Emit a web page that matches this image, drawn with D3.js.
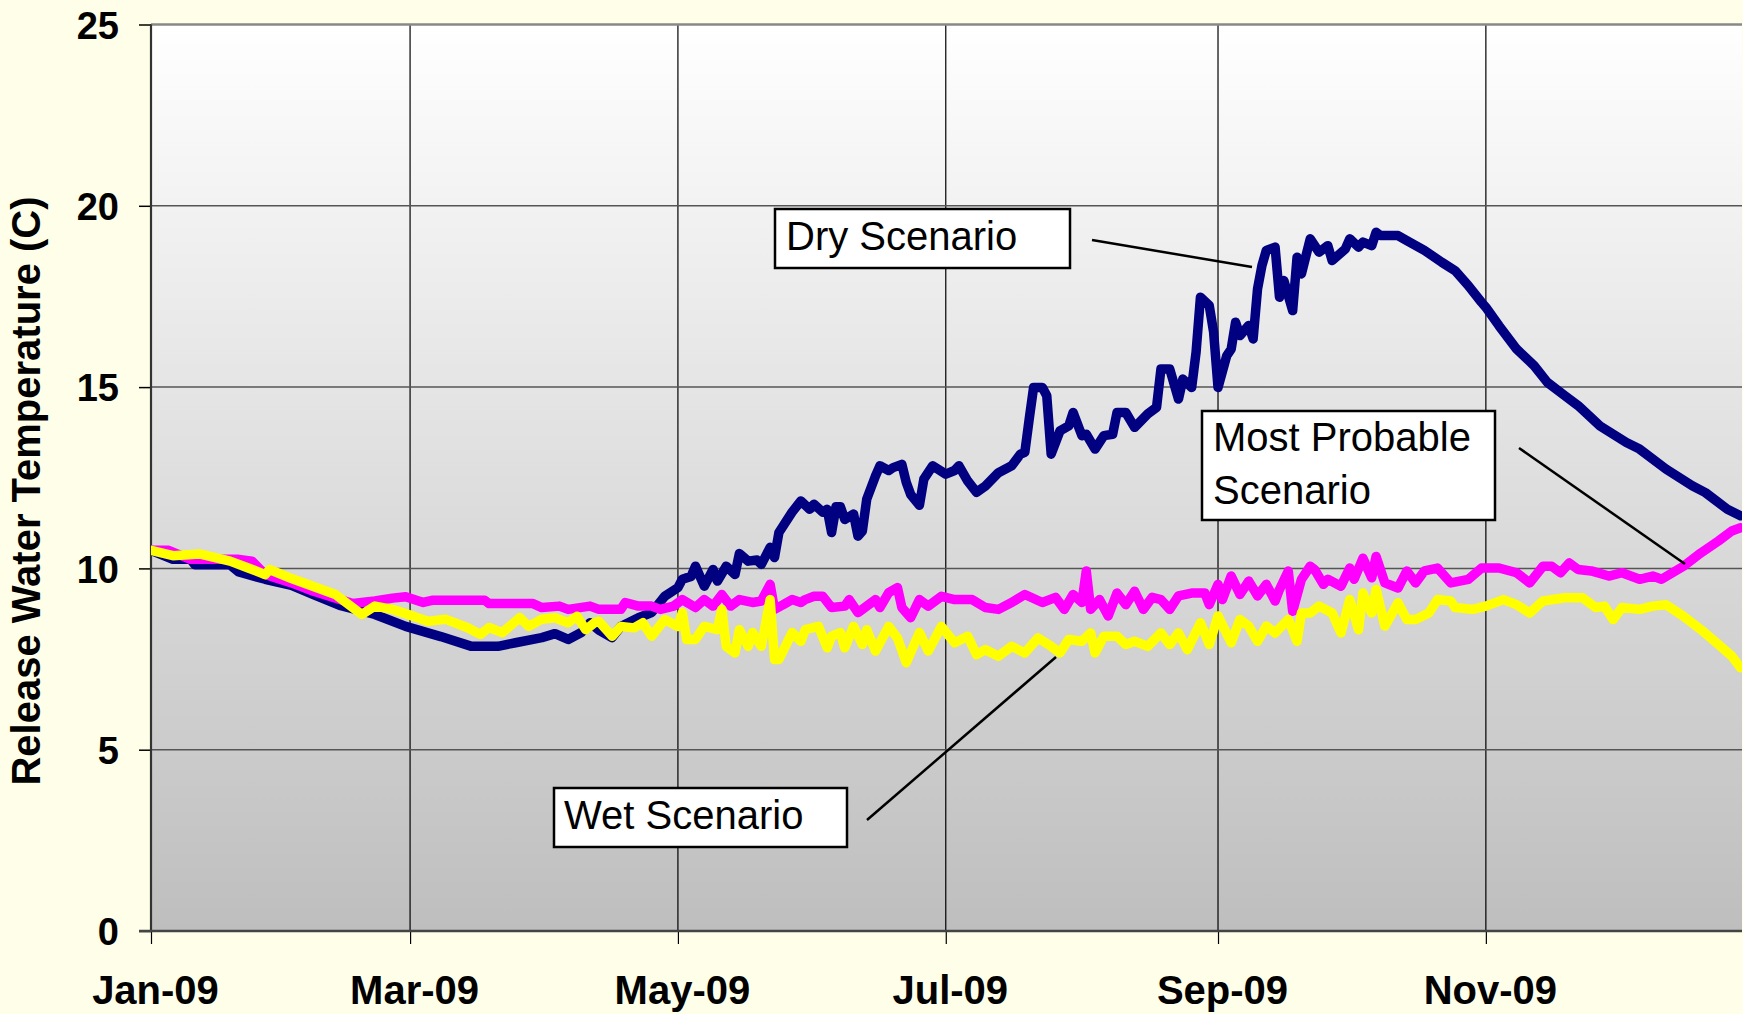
<!DOCTYPE html>
<html>
<head>
<meta charset="utf-8">
<script src="https://cdn.jsdelivr.net/npm/d3@7"></script>
<style>
  html, body { margin: 0; padding: 0; background: #FFFFE9; }
  svg { display: block; }
  text { font-family: "Liberation Sans", Arial, sans-serif; }
</style>
</head>
<body>
<svg id="chart" width="1743" height="1014"></svg>
<script>
// ---- Data (day offset from 1 Jan 2009, release water temperature in C) ----
const seriesNames = ["Dry Scenario", "Most Probable Scenario", "Wet Scenario"];
const tempTicks = [0, 5, 10, 15, 20, 25];
const monthTickLabels = ["Jan-09", "Mar-09", "May-09", "Jul-09", "Sep-09", "Nov-09"];

const dryDays = [0,5,9,10,18,20,26,32,37,43,51,58,66,73,79,83,89,92,95,98,100,102,105,107,111,114,117,120,121,123,124,126,128,129,131,133,134,136,138,139,141,142,143,146,148,150,151,153,154,155,156,157,158,160,161,162,163,165,166,168,169,171,172,173,175,176,178,181,183,184,186,188,190,193,196,198,199,200,201,203,204,205,207,209,210,212,213,215,217,219,220,222,224,227,229,230,232,234,235,237,238,239,241,242,243,245,246,247,248,250,251,252,253,254,256,257,258,260,261,262,264,266,268,269,272,273,275,276,278,279,280,284,286,290,294,297,300,303,304,307,311,315,318,322,325,330,336,339,345,351,354,359,362];
const dryTemps = [10.5,10.25,10.25,10.1,10.1,9.9,9.7,9.53,9.28,8.98,8.73,8.4,8.12,7.85,7.85,7.95,8.09,8.2,8.04,8.23,8.5,8.3,8.09,8.4,8.64,8.78,9.23,9.47,9.7,9.78,10.06,9.51,9.97,9.65,10.06,9.83,10.41,10.2,10.23,10.11,10.58,10.3,10.99,11.55,11.86,11.63,11.77,11.55,11.63,10.99,11.7,11.7,11.35,11.5,10.89,11.03,11.91,12.55,12.83,12.7,12.78,12.87,12.37,12.04,11.74,12.46,12.83,12.6,12.7,12.83,12.41,12.1,12.27,12.64,12.83,13.15,13.2,14.12,14.99,14.99,14.76,13.15,13.79,13.93,14.3,13.66,13.7,13.29,13.66,13.7,14.3,14.3,13.89,14.26,14.44,15.5,15.5,14.67,15.22,14.99,15.96,17.48,17.25,16.51,14.99,15.87,16.05,16.79,16.42,16.7,16.33,17.71,18.35,18.77,18.86,17.48,17.94,17.11,18.58,18.12,19.09,18.72,18.9,18.49,18.81,19.09,18.86,19.0,18.9,19.27,19.18,19.18,19.04,18.77,18.44,18.21,17.8,17.34,17.2,16.69,16.05,15.59,15.13,14.76,14.49,13.93,13.47,13.29,12.74,12.28,12.09,11.63,11.45];

const probDays = [0,4,9,20,23,26,32,37,43,46,51,55,58,62,64,76,77,87,89,93,95,100,102,107,108,111,114,116,119,121,124,126,128,130,132,134,137,139,141,142,144,146,148,149,151,153,155,158,159,161,163,165,166,168,170,171,173,175,177,180,183,187,190,193,196,199,203,206,208,210,212,213,214,216,218,220,222,224,226,228,230,232,234,237,240,241,243,244,246,248,250,252,254,256,257,259,260,262,264,265,267,268,271,273,274,276,278,279,281,284,286,288,290,293,296,300,303,307,311,314,317,319,321,323,325,328,332,335,339,342,344,349,353,357,360,362];
const probTemps = [10.5,10.5,10.25,10.25,10.2,9.83,9.6,9.37,9.14,9.03,9.1,9.18,9.22,9.06,9.12,9.12,9.03,9.03,8.92,8.96,8.87,8.96,8.87,8.87,9.06,8.96,8.96,8.87,8.96,9.14,8.92,9.14,8.96,9.28,8.96,9.14,9.06,9.1,9.56,8.87,9.0,9.14,9.06,9.14,9.23,9.23,8.92,8.96,9.14,8.78,8.96,9.14,8.92,9.33,9.47,8.92,8.64,9.14,8.96,9.23,9.14,9.14,8.92,8.87,9.06,9.28,9.06,9.2,8.87,9.28,9.06,9.93,8.87,9.14,8.69,9.32,9.0,9.37,8.87,9.2,9.14,8.87,9.24,9.32,9.32,9.0,9.56,9.14,9.79,9.28,9.65,9.24,9.56,9.1,9.42,9.93,8.82,9.7,10.06,9.97,9.56,9.7,9.51,10.01,9.7,10.28,9.74,10.33,9.6,9.46,9.93,9.6,9.93,10.01,9.6,9.7,10.01,10.01,9.88,9.6,10.06,10.06,9.88,10.15,9.97,9.93,9.79,9.88,9.7,9.79,9.7,10.06,10.43,10.76,11.03,11.12];

const wetDays = [0,5,11,18,22,26,27,32,37,42,48,51,55,60,63,67,72,75,77,80,84,86,89,92,93,95,97,99,101,102,105,107,110,112,114,117,120,121,122,124,126,129,130,131,133,134,136,137,139,141,142,143,146,148,149,152,154,155,157,158,160,162,163,165,168,170,172,175,177,180,183,186,188,190,193,196,199,202,205,207,209,212,214,215,217,220,222,224,227,230,232,234,236,239,241,243,246,248,250,252,254,256,259,261,262,264,266,269,271,273,275,276,278,279,281,284,286,288,291,293,296,297,301,304,308,311,314,317,322,326,329,331,333,335,339,342,345,349,353,357,360,362];
const wetTemps = [10.5,10.35,10.4,10.2,10.02,9.83,9.97,9.72,9.5,9.28,8.73,8.96,8.87,8.67,8.54,8.6,8.37,8.18,8.37,8.23,8.64,8.4,8.6,8.64,8.59,8.5,8.68,8.31,8.5,8.54,8.13,8.4,8.36,8.5,8.13,8.59,8.4,8.78,8.04,8.04,8.4,8.31,8.87,7.85,7.67,8.31,7.85,8.23,7.85,9.14,7.49,7.49,8.23,7.99,8.31,8.4,7.81,8.13,8.23,7.81,8.4,7.9,8.31,7.72,8.4,8.08,7.4,8.23,7.72,8.4,7.95,8.13,7.62,7.76,7.58,7.85,7.67,8.08,7.85,7.67,8.04,7.99,8.22,7.67,8.13,8.13,7.9,7.99,7.85,8.22,7.9,8.22,7.76,8.5,7.9,8.69,7.95,8.59,8.41,7.99,8.41,8.22,8.59,7.99,8.77,8.77,8.96,8.77,8.22,9.14,8.31,9.32,8.77,9.42,8.41,9.05,8.59,8.59,8.77,9.14,9.1,8.92,8.87,8.96,9.14,9.0,8.77,9.1,9.19,9.19,8.92,8.96,8.59,8.92,8.87,8.96,9.0,8.68,8.31,7.9,7.58,7.26];

const seriesColors = ["#000080", "#FF00FF", "#FFFF00"];

// ---- Layout ----
const svg = d3.select("#chart");
const plot = { left: 151, right: 1742, top: 24.5, bottom: 931 };
const start = new Date(2009, 0, 1);
const end = new Date(2010, 0, 1);
const x = d3.scaleTime().domain([start, end]).range([plot.left, plot.left + 365 * 4.391]);
const y = d3.scaleLinear().domain([0, 25]).range([plot.bottom, plot.top]);
const toDate = d => d3.timeDay.offset(start, d);

// background gradient for plot area
const defs = svg.append("defs");
const grad = defs.append("linearGradient").attr("id", "bg").attr("x1", 0).attr("y1", 0).attr("x2", 0).attr("y2", 1);
grad.append("stop").attr("offset", 0).attr("stop-color", "#FFFFFF");
grad.append("stop").attr("offset", 1).attr("stop-color", "#BEBEBE");
defs.append("clipPath").attr("id", "clip").append("rect")
  .attr("x", plot.left).attr("y", plot.top - 10)
  .attr("width", plot.right - plot.left).attr("height", plot.bottom - plot.top + 10);

svg.append("rect").attr("x", plot.left).attr("y", plot.top)
  .attr("width", plot.right - plot.left).attr("height", plot.bottom - plot.top)
  .attr("fill", "url(#bg)");

// ---- Axes / grid ----
const monthTicks = d3.timeMonth.every(2).range(start, end);
const xAxis = svg.append("g").attr("transform", `translate(0,${plot.bottom})`)
  .call(d3.axisBottom(x).tickValues(monthTicks)
    .tickFormat((d, i) => monthTickLabels[i]).tickSize(13));
xAxis.select(".domain").remove();
xAxis.selectAll(".tick line").attr("stroke", "#000").attr("stroke-width", 1.2);
xAxis.selectAll(".tick text").attr("y", 73).attr("dy", 0).attr("dx", 4)
  .attr("font-size", 40).attr("font-weight", "bold").attr("fill", "#000")
  .attr("font-family", "Liberation Sans, Arial, sans-serif");

// vertical grid
svg.append("g").selectAll("line").data(monthTicks).join("line")
  .attr("x1", d => x(d)).attr("x2", d => x(d))
  .attr("y1", plot.top).attr("y2", plot.bottom)
  .attr("stroke", "#000").attr("stroke-width", 1.2);

// horizontal grid
svg.append("g").selectAll("line").data(tempTicks.filter(t => t > 0)).join("line")
  .attr("x1", plot.left).attr("x2", plot.right)
  .attr("y1", d => y(d)).attr("y2", d => y(d))
  .attr("stroke", d => d === 25 ? "#888" : "#555")
  .attr("stroke-width", d => d === 25 ? 2.5 : 1.5);

const yAxis = svg.append("g").attr("transform", `translate(${plot.left},0)`)
  .call(d3.axisLeft(y).tickValues(tempTicks).tickSize(12));
yAxis.select(".domain").remove();
yAxis.selectAll(".tick line").attr("stroke", "#000").attr("stroke-width", 1.5);
yAxis.selectAll(".tick text").attr("x", -32).attr("dy", "0.36em")
  .attr("font-size", 38).attr("font-weight", "bold").attr("fill", "#000")
  .attr("font-family", "Liberation Sans, Arial, sans-serif");

// axis lines
svg.append("line").attr("x1", plot.left).attr("x2", plot.left)
  .attr("y1", plot.top).attr("y2", plot.bottom + 1)
  .attr("stroke", "#333").attr("stroke-width", 2.2);
svg.append("line").attr("x1", plot.left - 12).attr("x2", plot.right)
  .attr("y1", plot.bottom).attr("y2", plot.bottom)
  .attr("stroke", "#444").attr("stroke-width", 2.5);

// y title
svg.append("text")
  .attr("transform", `translate(40,${491}) rotate(-90)`)
  .attr("text-anchor", "middle")
  .attr("font-size", 40).attr("font-weight", "bold").attr("fill", "#000")
  .text("Release Water Temperature (C)");

// ---- Lines ----
const line = d3.line().x(d => x(toDate(d[0]))).y(d => y(d[1]));
const allSeries = [
  d3.zip(dryDays, dryTemps),
  d3.zip(probDays, probTemps),
  d3.zip(wetDays, wetTemps)
];
svg.append("g").attr("clip-path", "url(#clip)")
  .selectAll("path").data(allSeries).join("path")
  .attr("d", line)
  .attr("fill", "none")
  .attr("stroke", (d, i) => seriesColors[i])
  .attr("stroke-width", 9.5)
  .attr("stroke-linejoin", "round")
  .attr("stroke-linecap", "round");

// ---- Annotations ----
function labelBox(bx, by, bw, bh, lines, tx, ty0, lh) {
  svg.append("rect").attr("x", bx).attr("y", by).attr("width", bw).attr("height", bh)
    .attr("fill", "#fff").attr("stroke", "#000").attr("stroke-width", 2.5);
  lines.forEach((t, i) => {
    svg.append("text").attr("x", tx).attr("y", ty0 + i * lh)
      .attr("font-size", 40).attr("fill", "#000").text(t);
  });
}
function leader(x1, y1, x2, y2) {
  svg.append("line").attr("x1", x1).attr("y1", y1).attr("x2", x2).attr("y2", y2)
    .attr("stroke", "#000").attr("stroke-width", 2.5);
}
labelBox(775, 209, 295, 59, ["Dry Scenario"], 786, 250, 0);
leader(1092, 240, 1252, 267);
labelBox(1202, 411, 293, 109, ["Most Probable", "Scenario"], 1213, 451, 53);
leader(1519, 448, 1685, 564);
labelBox(554, 788, 293, 59, ["Wet Scenario"], 564, 829, 0);
leader(867, 820, 1056, 657);
</script>
</body>
</html>
